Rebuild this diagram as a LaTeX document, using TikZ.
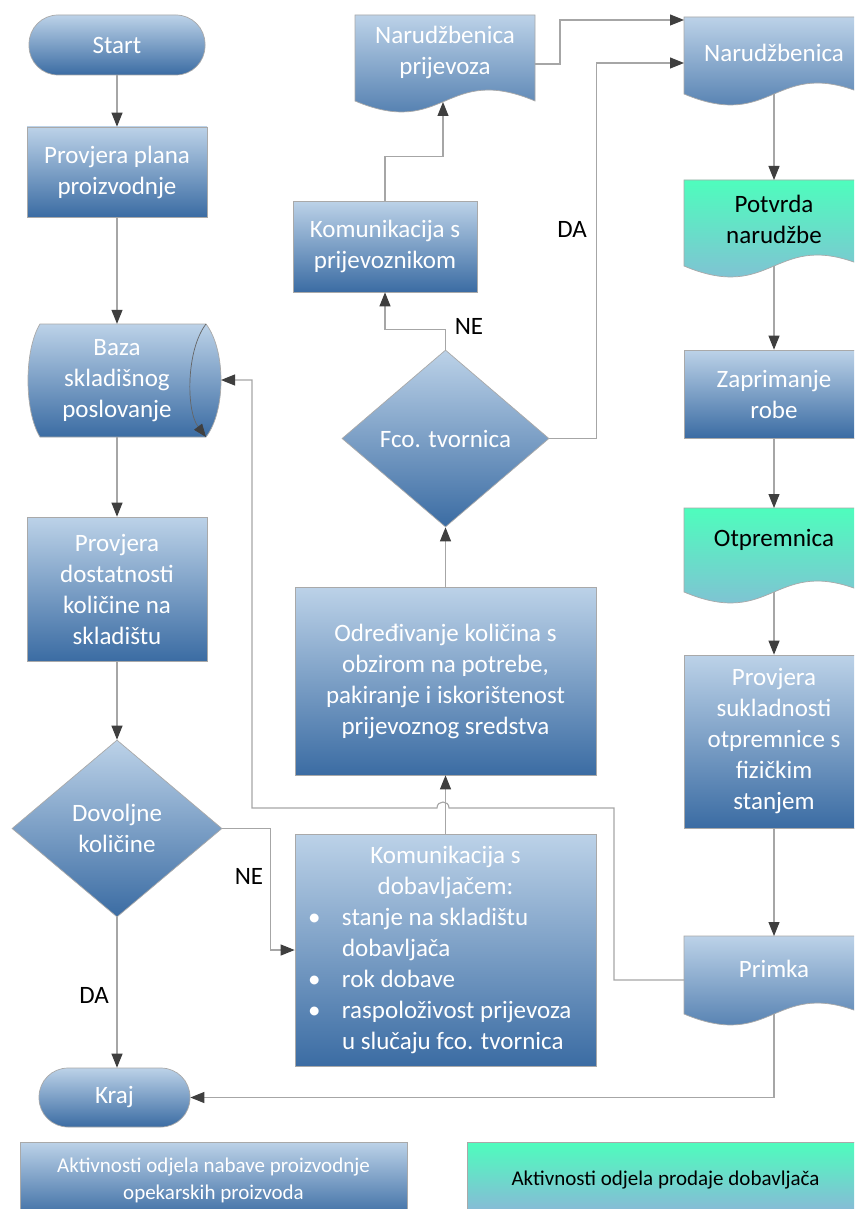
\documentclass[tikz,border=0pt]{standalone}
\usepackage{fontspec}
\setmainfont{Carlito}
\usetikzlibrary{arrows.meta,shapes.geometric,calc}
\definecolor{bT}{HTML}{BCD2E8}
\definecolor{bB}{HTML}{3B6CA3}
\definecolor{gT}{HTML}{4EFDBD}
\definecolor{gB}{HTML}{8DB3D9}
\definecolor{edgeC}{HTML}{A9A9A9}
\definecolor{lineC}{HTML}{A6A6A6}
\definecolor{tipC}{HTML}{3F3F3F}
\newcommand\bulmark{\makebox[47pt][l]{\hspace{13pt}\textbullet}}
\newcommand\bulgap{\hspace*{47pt}}
\begin{document}
\begin{tikzpicture}[x=1pt,y=-1pt,
  every node/.style={font=\fontsize{25}{31}\selectfont},
  fillB/.style={draw=edgeC, line width=0.7pt, top color=bT, bottom color=bB},
  base/.style={fillB, text=white, align=center, inner sep=0pt},
  proc/.style={base, rectangle},
  term/.style={base, rectangle, rounded corners=29pt},
  dec/.style={base, diamond},
  shapeB/.style={fillB},
  shapeG/.style={draw=edgeC, line width=0.7pt, top color=gT, bottom color=gB},
  lbl/.style={inner sep=0pt, text=black},
  wtext/.style={inner sep=0pt, text=white, align=center},
  ktext/.style={inner sep=0pt, text=black, align=center},
  conn/.style={draw=lineC, line width=1.1pt},
  arr/.style={conn, -{Triangle[length=14pt,width=11pt,color=tipC]}}
]
\useasboundingbox (0,0) rectangle (854,1209);
\fill[white] (0,0) rectangle (854,1209);
\clip (0,0) rectangle (854,1209);

% ---- left column
\node[term, minimum width=176pt, minimum height=60pt] (start) at (117,45) {Start};
\node[proc, minimum width=180pt, minimum height=90pt] (ppp) at (117,172) {Provjera plana\\proizvodnje};
\path[shapeB] (40,324) -- (206,324) .. controls (226,350) and (226,411) .. (206,437) -- (40,437) .. controls (24,411) and (24,350) .. (40,324) -- cycle;
\draw[draw=edgeC!60!black, line width=0.7pt, -{Triangle[length=13pt,width=10pt,color=tipC]}] (206,324) .. controls (186,350) and (186,411) .. (206,437);
\node[wtext, minimum width=170pt, minimum height=113pt] (baza) at (117,380.5) {Baza\\skladišnog\\poslovanje};
\coordinate (baza-r) at (221,380);
\node[proc, minimum width=180pt, minimum height=144pt] (pdk) at (117,589) {Provjera\\dostatnosti\\količine na\\skladištu};
\node[dec, minimum width=210pt, minimum height=177pt] (dk) at (117,828.5) {Dovoljne\\količine};
\node[term, minimum width=151pt, minimum height=59pt] (kraj) at (114.5,1097.5) {Kraj};

% ---- middle column
\node[fillB, rectangle, text=white, inner sep=0pt, minimum width=301pt, minimum height=232pt] (kd) at (445.5,950)
 {\parbox{301pt}{\centering Komunikacija s\\dobavljačem:\par
  \raggedright
  \bulmark stanje na skladištu\\
  \bulgap dobavljača\\
  \bulmark rok dobave\\
  \bulmark raspoloživost prijevoza\\
  \bulgap u slučaju fco. tvornica\par}};
\node[proc, minimum width=301pt, minimum height=188pt] (od) at (445.5,681) {Određivanje količina s\\obzirom na potrebe,\\pakiranje i iskorištenost\\prijevoznog sredstva};
\node[dec, minimum width=207pt, minimum height=177pt] (fco) at (445.5,438.5) {Fco. tvornica};
\node[proc, minimum width=184pt, minimum height=91pt] (kp) at (385,246.5) {Komunikacija s\\prijevoznikom};
\path[shapeB] (355,15) -- (535,15) -- (535,101) .. controls (445,63) and (445,139) .. (355,101) -- cycle;
\node[wtext] (np) at (445,52) {Narudžbenica\\prijevoza};
\coordinate (np-b) at (443,102);
\coordinate (np-r) at (535,64);

% ---- right column
\path[shapeB] (684,17) -- (864,17) -- (864,94) .. controls (774,56) and (774,132) .. (684,94) -- cycle;
\node[wtext] (nr) at (774,53) {Narudžbenica};
\coordinate (nr-in1) at (684,20);
\coordinate (nr-in2) at (684,63);
\coordinate (nr-b) at (774,94);
\path[shapeG] (684,180) -- (864,180) -- (864,266) .. controls (774,228) and (774,304) .. (684,266) -- cycle;
\node[ktext] (potv) at (774,219) {Potvrda\\narudžbe};
\coordinate (potv-t) at (774,180);
\coordinate (potv-b) at (774,266);
\node[proc, minimum width=180pt, minimum height=88pt] (zap) at (774,394) {Zaprimanje\\robe};
\path[shapeG] (684,508) -- (864,508) -- (864,592) .. controls (774,554) and (774,630) .. (684,592) -- cycle;
\node[ktext] (otp) at (774,540) {Otpremnica};
\coordinate (otp-t) at (774,508);
\coordinate (otp-b) at (774,592);
\node[proc, minimum width=180pt, minimum height=173pt] (psu) at (774,741.5) {Provjera\\sukladnosti\\otpremnice s\\fizičkim\\stanjem};
\path[shapeB] (684,936) -- (864,936) -- (864,1014) .. controls (774,976) and (774,1052) .. (684,1014) -- cycle;
\node[wtext] (pr) at (774,969) {Primka};
\coordinate (pr-t) at (774,936);
\coordinate (pr-l) at (684,980);
\coordinate (pr-b) at (774,1014);

% ---- legend
\node[proc, minimum width=387pt, minimum height=76pt, font=\fontsize{21}{27}\selectfont] (leg1) at (213.5,1180) {Aktivnosti odjela nabave proizvodnje\\opekarskih proizvoda};
\node[proc, top color=gT, bottom color=gB, text=black, minimum width=397pt, minimum height=76pt, font=\fontsize{21}{27}\selectfont] (leg2) at (665.5,1180) {Aktivnosti odjela prodaje dobavljača};

% ---- connectors
\draw[arr] (start) -- (ppp);
\draw[arr] (ppp) -- (baza);
\draw[arr] (baza) -- (pdk);
\draw[arr] (pdk) -- (dk);
\draw[arr] (dk.south) -- (dk.south |- kraj.north);
\draw[arr] (dk.east) -- ++(48,0) |- (kd.west);
\draw[arr] (kd) -- (od);
\draw[arr] (od) -- (fco);
\draw[arr] (fco.north) -- ++(0,-20) -| (kp.south);
\draw[arr] (kp.north) -- ++(0,-44) -| (np-b);
\draw[arr] (np-r) -- ++(25,0) |- (nr-in1);
\draw[arr] (fco.east) -- ++(47,0) |- (nr-in2);
\draw[arr] (nr-b) -- (potv-t);
\draw[arr] (potv-b) -- (zap);
\draw[arr] (zap) -- (otp-t);
\draw[arr] (otp-b) -- (psu);
\draw[arr] (psu) -- (pr-t);
\draw[arr] (pr-l) -- (614,980) -- (614,808) -- (449,808) .. controls (449,800) and (437,800) .. (437,808) -- (252,808) |- (baza-r);
\draw[arr] (pr-b) |- (kraj.east);

% ---- labels
\node[lbl] (lda1) at (94,995) {DA};
\node[lbl] (lne1) at (249,876) {NE};
\node[lbl] (lne2) at (469,326) {NE};
\node[lbl] (lda2) at (572,229) {DA};
\end{tikzpicture}
\end{document}
